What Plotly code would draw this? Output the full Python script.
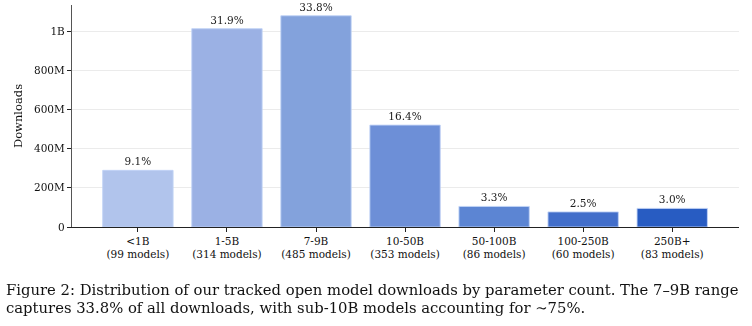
import plotly.graph_objects as go

categories = ["<1B", "1-5B", "7-9B", "10-50B", "50-100B", "100-250B", "250B+"]
model_counts = [99, 314, 485, 353, 86, 60, 83]
downloads = [289e6, 1012e6, 1078e6, 520e6, 105e6, 77e6, 95e6]
share_pct = ["9.1%", "31.9%", "33.8%", "16.4%", "3.3%", "2.5%", "3.0%"]
bar_colors = ["#aec2ec", "#97aee3", "#7e9edb", "#678ad6", "#5580d2", "#3a68c8", "#1f55c0"]
y_tickvals = [0, 200e6, 400e6, 600e6, 800e6, 1000e6]
y_ticktext = ["0", "200M", "400M", "600M", "800M", "1B"]
caption_lines = [
    "Figure 2: Distribution of our tracked open model downloads by parameter count. The 7–9B range",
    "captures 33.8% of all downloads, with sub-10B models accounting for ∼75%.",
]

x_labels = [f"{c}<br>({n} models)" for c, n in zip(categories, model_counts)]
serif = "DejaVu Serif"

fig = go.Figure()
fig.add_trace(go.Bar(
    x=list(range(len(categories))),
    y=downloads,
    width=0.79,
    marker=dict(color=bar_colors, line=dict(color="rgba(190,208,245,0.9)", width=1)),
    opacity=0.96,
    text=share_pct,
    textposition="outside",
    cliponaxis=False,
    textfont=dict(family=serif, size=10.5, color="#111"),
    hoverinfo="skip",
))

fig.update_layout(
    width=752, height=326,
    margin=dict(l=72, r=13, t=5, b=99),
    paper_bgcolor="white",
    plot_bgcolor="white",
    showlegend=False,
    font=dict(family=serif, size=10.5, color="#111"),
    bargap=0.2,
)
fig.update_xaxes(
    range=[-0.74, 6.75],
    tickvals=list(range(len(categories))),
    ticktext=x_labels,
    showline=True, linecolor="#222", linewidth=1.2,
    ticks="outside", ticklen=4, tickcolor="#222",
    showgrid=False, zeroline=False,
    tickfont=dict(family=serif, size=10.5, color="#111"),
)
fig.update_yaxes(
    range=[0, 1133e6],
    tickvals=y_tickvals,
    ticktext=y_ticktext,
    showline=True, linecolor="#555", linewidth=1.2,
    ticks="outside", ticklen=4, tickcolor="#222",
    showgrid=True, gridcolor="#ebebeb", gridwidth=1,
    zeroline=False,
    tickfont=dict(family=serif, size=10.5, color="#111"),
    title=dict(text="Downloads", font=dict(family=serif, size=11.5, color="#111"), standoff=8),
)
for i, line in enumerate(caption_lines):
    y_px = 289 + 18 * i
    fig.add_annotation(
        text=line, xref="paper", yref="paper",
        x=-68/667, y=(227 - y_px)/222, xanchor="left", yanchor="middle",
        align="left", showarrow=False,
        font=dict(family="DejaVu Serif", size=14.8, color="#111"),
    )
fig.write_html("out.html")
